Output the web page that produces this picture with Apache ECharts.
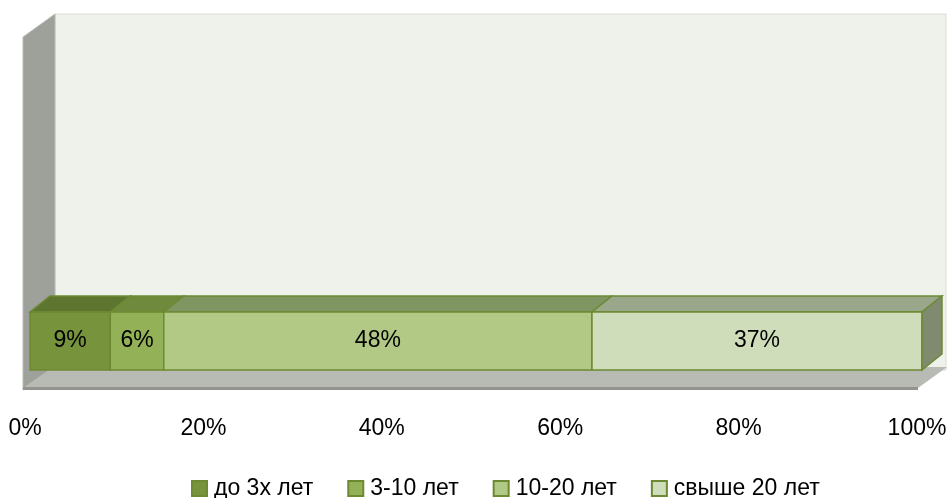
<!DOCTYPE html>
<html><head><meta charset="utf-8">
<script src="https://cdn.jsdelivr.net/npm/echarts@6/dist/echarts.min.js"></script>
<style>html,body{margin:0;padding:0;background:#fff}#c{width:950px;height:498px}</style>
</head><body><div id="c"></div>
<script>
const categories = ['до 3х лет', '3-10 лет', '10-20 лет', 'свыше 20 лет'];
const values = [9, 6, 48, 37];
const tickLabels = ['0%', '20%', '40%', '60%', '80%', '100%'];

const frontColors = ['#77933c', '#93b157', '#b1c985', '#cfddba'];
const topColors = ['#5e7530', '#6f8a3c', '#7f9662', '#9aa78a'];
const sideColor = '#7f8a6f';
const edgeColor = '#6c8a32';
const DX = 20, DY = -16;
const FONT = 'Liberation Sans, Arial, sans-serif';

const chart = echarts.init(document.getElementById('c'));

// cumulative start/end for each segment
const segs = [];
let acc = 0;
values.forEach((v, i) => { segs.push({ name: categories[i], value: [acc, acc + v, v, i] }); acc += v; });

const legendSeries = categories.map((c, i) => ({
  name: c, type: 'bar', xAxisIndex: 0, yAxisIndex: 0, data: [],
  itemStyle: { color: frontColors[i], borderColor: edgeColor, borderWidth: 1 }
}));

chart.setOption({
  animation: false,
  backgroundColor: '#ffffff',
  graphic: [
    { type: 'rect', z: -10, shape: { x: 55, y: 14, width: 891, height: 356 },
      style: { fill: '#eff1eb', stroke: '#dadcd4', lineWidth: 1 } },
    { type: 'polygon', z: -9, shape: { points: [[23, 37], [55, 14], [55, 368], [23, 390]] },
      style: { fill: '#9ea09a', stroke: '#b9bbb5', lineWidth: 1 } },
    { type: 'polygon', z: -8, shape: { points: [[23, 388], [53, 367], [947, 367], [918, 388]] },
      style: { fill: '#b8bab4' } },
    { type: 'line', z: -7, shape: { x1: 23, y1: 388.5, x2: 918, y2: 388.5 },
      style: { stroke: '#939391', lineWidth: 3 } }
  ],
  grid: [
    { left: 30, right: 28, top: 312, height: 58 },
    { left: 25, right: 33, top: 380, height: 20 }
  ],
  xAxis: [
    { type: 'value', gridIndex: 0, min: 0, max: 100, show: false },
    { type: 'category', gridIndex: 1, data: tickLabels, boundaryGap: false,
      axisLine: { show: false }, axisTick: { show: false }, splitLine: { show: false },
      axisLabel: { interval: 0, margin: 17, color: '#000', fontSize: 23, fontFamily: FONT } }
  ],
  yAxis: [
    { type: 'category', gridIndex: 0, data: [''], show: false },
    { type: 'value', gridIndex: 1, show: false }
  ],
  legend: {
    left: 186, top: 472, icon: 'rect', itemWidth: 15, itemHeight: 15, itemGap: 34,
    data: categories,
    textStyle: { color: '#000', fontSize: 23, fontFamily: FONT, padding: [0, 0, 0, 2] }
  },
  series: legendSeries.concat([{
    type: 'custom', xAxisIndex: 0, yAxisIndex: 0,
    data: segs,
    renderItem: function (params, api) {
      const i = api.value(3);
      const p0 = api.coord([api.value(0), 0]);
      const p1 = api.coord([api.value(1), 0]);
      const h = api.size([0, 1])[1];
      const x0 = p0[0], x1 = p1[0], y0 = p0[1] - h / 2;
      const children = [
        { type: 'polygon', shape: { points: [[x0, y0], [x1, y0], [x1 + DX, y0 + DY], [x0 + DX, y0 + DY]] },
          style: { fill: topColors[i], stroke: edgeColor, lineWidth: 1.5 } },
        { type: 'rect', shape: { x: x0, y: y0, width: x1 - x0, height: h },
          style: { fill: frontColors[i], stroke: edgeColor, lineWidth: 1.5 } },
      ];
      if (i === values.length - 1) {
        children.push({ type: 'polygon', shape: { points: [[x1, y0], [x1 + DX, y0 + DY], [x1 + DX, y0 + h + DY], [x1, y0 + h]] },
          style: { fill: sideColor, stroke: edgeColor, lineWidth: 1.5 } });
      }
      children.push({ type: 'text', style: { text: api.value(2) + '%', x: (x0 + x1) / 2, y: y0 + h / 2,
        align: 'center', verticalAlign: 'middle', fill: '#000', fontSize: 23, fontFamily: FONT } });
      return { type: 'group', children: children };
    }
  }])
});
</script></body></html>
